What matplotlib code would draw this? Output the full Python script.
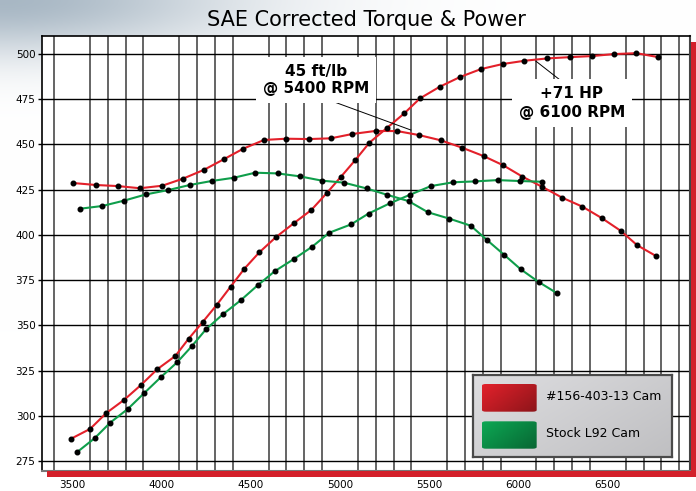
import numpy as np
import matplotlib
matplotlib.use("Agg")
import matplotlib.pyplot as plt
from matplotlib.patches import Rectangle, FancyBboxPatch

# dyno readings (rpm, value)
red_torque_rpm = [3505, 3633, 3756, 3880, 4005, 4121, 4239, 4349, 4459, 4575, 4698, 4825, 4948, 5069,
                  5200, 5322, 5443, 5565, 5685, 5804, 5914, 6022, 6134, 6244, 6358, 6466, 6573, 6664, 6772]
red_torque = [428.7, 427.6, 427.0, 425.8, 427.2, 431.1, 436.0, 441.8, 447.7, 452.5, 453.2, 453.0, 453.4, 455.8,
              457.5, 457.4, 455.2, 452.3, 448.2, 443.6, 438.5, 432.2, 426.5, 420.6, 415.6, 409.3, 402.2, 394.3, 388.2]

red_power_rpm = [3493, 3601, 3692, 3793, 3886, 3977, 4078, 4153, 4233, 4311, 4388, 4464, 4548, 4642, 4741, 4840,
                 4925, 5006, 5086, 5165, 5265, 5360, 5448, 5560, 5672, 5789, 5911, 6033, 6160, 6286, 6410, 6535,
                 6660, 6783]
red_power = [287.2, 292.7, 301.5, 308.9, 317.0, 325.7, 333.0, 342.6, 352.0, 361.4, 371.4, 381.2, 390.3, 398.8,
             406.4, 413.8, 423.0, 432.2, 441.4, 451.0, 459.3, 467.2, 475.5, 482.0, 487.3, 491.7, 494.5, 496.3,
             497.6, 498.3, 498.9, 500.0, 500.5, 498.3]

green_torque_rpm = [3547, 3670, 3793, 3914, 4039, 4159, 4281, 4405, 4526, 4651, 4774, 4899, 5022, 5149, 5263,
                    5384, 5493, 5612, 5732, 5823, 5918, 6012, 6112, 6216]
green_torque = [414.5, 416.0, 419.0, 422.4, 424.8, 427.6, 429.8, 431.6, 434.4, 434.0, 432.4, 430.0, 428.9, 425.7,
                422.2, 418.7, 412.5, 409.0, 405.1, 397.2, 389.1, 381.0, 374.0, 367.7]

green_power_rpm = [3530, 3627, 3714, 3813, 3905, 3996, 4088, 4172, 4250, 4347, 4444, 4539, 4636, 4741, 4845,
                   4940, 5062, 5160, 5280, 5392, 5509, 5634, 5757, 5883, 6007, 6130]
green_power = [280.0, 287.6, 296.2, 303.8, 312.6, 321.2, 329.5, 338.6, 347.8, 356.3, 363.8, 372.1, 380.0, 386.6,
               393.5, 401.2, 405.8, 411.8, 417.5, 422.2, 427.0, 429.1, 429.6, 430.3, 429.8, 429.4]

x_ticks = [3500, 4000, 4500, 5000, 5500, 6000, 6500]
y_ticks = [275, 300, 325, 350, 375, 400, 425, 450, 475, 500]
legend_labels = ["#156-403-13 Cam", "Stock L92 Cam"]

RED = "#e3202a"
GREEN = "#0f9e4b"

fig = plt.figure(figsize=(6.96, 4.91), dpi=100)
W, H = 696, 491

# grey haze in the top left corner
bg = fig.add_axes([0, 0, 1, 1], zorder=-10)
yy, xx = np.mgrid[0:H, 0:W]
t = np.exp(-((xx / 240.0) ** 2 + (yy / 55.0) ** 2))
rgb = 1 - t[..., None] * (1 - np.array([0.66, 0.72, 0.77]))
bg.imshow(rgb, aspect="auto", extent=(0, 1, 0, 1), origin="upper")
bg.axis("off")

ax = fig.add_axes([41.7 / W, 1 - 470.5 / H, (690 - 41.7) / W, (470.5 - 36) / H])
ax.set_facecolor("white")
ax.set_xlim(3330, 6960)
ax.set_ylim(269.7, 510)

ax.set_xticks(x_ticks)
ax.set_xticks(np.arange(3400, 7000, 100), minor=True)
ax.set_yticks(y_ticks)
ax.set_axisbelow(True)
ax.grid(axis="x", which="minor", color="#4a4a4a", lw=1.2)
ax.grid(axis="y", which="major", color="black", lw=1.0)
ax.tick_params(axis="x", which="both", length=0, pad=7, labelsize=7.5)
ax.tick_params(axis="y", length=3, width=1.0, pad=1.5, labelsize=7.5)
for s in ["left", "top"]:
    ax.spines[s].set_linewidth(1.2)
ax.spines["right"].set_color("#444444")
ax.spines["right"].set_linewidth(1.5)
ax.spines["bottom"].set_color("#777777")
ax.spines["bottom"].set_linewidth(1.5)

for rpm, val, col in [(red_torque_rpm, red_torque, RED), (red_power_rpm, red_power, RED),
                      (green_torque_rpm, green_torque, GREEN), (green_power_rpm, green_power, GREEN)]:
    ax.plot(rpm, val, color=col, lw=1.5, solid_joinstyle="round", solid_capstyle="round", zorder=2)
    ax.plot(rpm, val, ls="none", marker="o", ms=3.3, mfc="black", mec="black", zorder=3)

# callouts
ax.plot([4894, 5397], [476.2, 458.0], color="black", lw=0.7, zorder=2.5)
ax.plot([6254, 6097], [484.0, 496.1], color="black", lw=0.7, zorder=2.5)
ax.text(4866, 485.6, "45 ft/lb\n@ 5400 RPM", ha="center", va="center", fontsize=11, fontweight="bold",
        linespacing=1.15, zorder=4, bbox=dict(boxstyle="square,pad=0.45", fc="white", ec="none"))
ax.text(6298, 472.9, "+71 HP\n@ 6100 RPM", ha="center", va="center", fontsize=11, fontweight="bold",
        linespacing=1.3, zorder=4, bbox=dict(boxstyle="square,pad=0.45", fc="white", ec="none"))

fig.text(366 / W, 1 - 20 / H, "SAE Corrected Torque & Power", ha="center", va="center", fontsize=15)

# red border strips
fig.patches.append(Rectangle((47 / W, 1 - 477 / H), (696 - 47) / W, 6 / H, transform=fig.transFigure,
                             fc="#d3202a", ec="none", zorder=5))
fig.patches.append(Rectangle((691 / W, 1 - 477 / H), 5 / W, (477 - 42) / H, transform=fig.transFigure,
                             fc="#d3202a", ec="none", zorder=5))

# legend box
lg = fig.add_axes([472.7 / W, 1 - 456.7 / H, 199.3 / W, 81.7 / H], zorder=6)
gy, gx = np.mgrid[0:1:60j, 0:1:150j]
g = 0.87 - 0.12 * (0.6 * gx + 0.4 * gy)
lg.imshow(np.dstack([g, g, g + 0.01]), extent=(0, 1, 0, 1), aspect="auto", origin="upper")
lg.set_xlim(0, 1)
lg.set_ylim(0, 1)
lg.set_xticks([])
lg.set_yticks([])
for s in lg.spines.values():
    s.set_color("#4a4a4a")
    s.set_linewidth(1.6)

sw = (0.6 * gx + 0.4 * gy)[..., None]
red_grad = (1 - sw) * np.array([0.89, 0.13, 0.17]) + sw * np.array([0.55, 0.08, 0.10])
green_grad = (1 - sw) * np.array([0.05, 0.66, 0.33]) + sw * np.array([0.03, 0.40, 0.20])
for grad, y0, y1, lab, ty in [(red_grad, 0.551, 0.89, legend_labels[0], 0.734),
                              (green_grad, 0.098, 0.433, legend_labels[1], 0.278)]:
    im = lg.imshow(grad, extent=(0.0467, 0.321, y0, y1), aspect="auto", origin="upper", zorder=2)
    clip = FancyBboxPatch((0.0467, y0), 0.321 - 0.0467, y1 - y0, boxstyle="round,pad=0,rounding_size=0.02",
                          transform=lg.transData, fc="none", ec="none")
    lg.add_patch(clip)
    im.set_clip_path(clip)
    lg.text(0.368, ty, lab, ha="left", va="center", fontsize=9)

fig.savefig("out.png", dpi=100)
